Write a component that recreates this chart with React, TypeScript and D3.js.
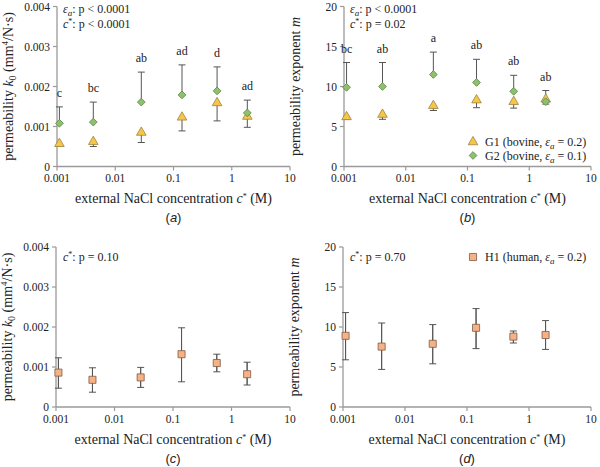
import * as d3 from "d3";
import React from "react";

const width = 600;
const height = 467;

// concentrations (M)
const conc = [0.0011, 0.0042, 0.028, 0.14, 0.56, 1.85];
const xTicks = [0.001, 0.01, 0.1, 1, 10];
const xTickLabels = ["0.001", "0.01", "0.1", "1", "10"];

// (a) k0 bovine
const k0G1 = [0.00057, 0.00062, 0.00085, 0.00123, 0.00159, 0.00125];
const k0G1Lo = [0.00052, 0.0005, 0.0006, 0.00089, 0.00114, 0.00098];
const k0G2 = [0.00108, 0.00111, 0.00161, 0.00179, 0.00189, 0.00134];
const k0G2Hi = [0.00149, 0.00161, 0.00236, 0.00254, 0.00249, 0.00166];
const k0Letters = ["c", "bc", "ab", "ad", "d", "ad"];

// (b) m bovine
const mG1 = [6.2, 6.5, 7.6, 8.3, 8.1, 8.4];
const mG1Lo = [5.9, 5.9, 7.0, 7.35, 7.3, 7.8];
const mG2 = [9.9, 10.0, 11.5, 10.5, 9.4, 8.1];
const mG2Hi = [13.0, 13.0, 14.3, 13.4, 11.4, 9.5];
const mLetters = ["bc", "ab", "a", "ab", "ab", "ab"];

// (c) k0 human
const k0H1 = [0.00086, 0.00068, 0.00074, 0.00132, 0.0011, 0.00082];
const k0H1Lo = [0.00047, 0.00037, 0.00049, 0.00063, 0.00088, 0.00055];
const k0H1Hi = [0.00123, 0.00098, 0.00099, 0.00198, 0.00132, 0.00112];

// (d) m human
const mH1 = [8.9, 7.55, 7.9, 9.9, 8.8, 9.0];
const mH1Lo = [5.9, 4.7, 5.4, 7.3, 8.0, 7.2];
const mH1Hi = [11.8, 10.5, 10.3, 12.3, 9.5, 10.8];

const k0Ticks = [0, 0.001, 0.002, 0.003, 0.004];
const k0TickLabels = ["0", "0.001", "0.002", "0.003", "0.004"];
const mTicks = [0, 5, 10, 15, 20];
const mTickLabels = ["0", "5", "10", "15", "20"];

const serif = "'Liberation Serif', 'Times New Roman', serif";
const sans = "'Liberation Sans', Arial, sans-serif";
const axisColor = "#9a9a9a";
const barColor = "#555";

const g1Fill = "#f7c646";
const g1Stroke = "#9c8340";
const g2Fill = "#8dc26b";
const g2Stroke = "#5e874a";
const h1Fill = "#f6b184";
const h1Stroke = "#7d5c48";

const triPath = d3.symbol(d3.symbolTriangle, 40)() as string;
const sqPath = d3.symbol(d3.symbolSquare, 30)() as string;
const boxPath = d3.symbol(d3.symbolSquare, 50)() as string;

interface Frame {
  left: number;
  right: number;
  top: number;
  bottom: number;
}

const frameA = { left: 57, right: 290, top: 6.5, bottom: 166.5 };
const frameB = { left: 344, right: 591, top: 6.5, bottom: 166.5 };
const frameC = { left: 56, right: 290, top: 247, bottom: 407 };
const frameD = { left: 343, right: 591, top: 247, bottom: 407 };

type XS = d3.ScaleLogarithmic<number, number>;
type YS = d3.ScaleLinear<number, number>;

const makeX = (f: Frame) =>
  d3.scaleLog().domain([0.001, 10]).range([f.left, f.right]);
const makeY = (f: Frame, max: number) =>
  d3.scaleLinear().domain([0, max]).range([f.bottom, f.top]);

// eps_a followed by text, baseline restored on the text
const Eps = ({ rest }: { rest: string }) => (
  <>
    <tspan fontStyle="italic">ε</tspan>
    <tspan fontStyle="italic" dy={3} fontSize={9}>a</tspan>
    <tspan dy={-3}>{rest}</tspan>
  </>
);

const CStar = ({ rest }: { rest: string }) => (
  <>
    <tspan fontStyle="italic">c</tspan>
    <tspan dy={-4} fontSize={8}>*</tspan>
    <tspan dy={4}>{rest}</tspan>
  </>
);

const k0Title = (
  <>
    <tspan>permeability </tspan>
    <tspan fontStyle="italic">k</tspan>
    <tspan dy={3} fontSize={10}>0</tspan>
    <tspan dy={-3}> (mm</tspan>
    <tspan dy={-5} fontSize={9}>4</tspan>
    <tspan dy={5}>/N·s)</tspan>
  </>
);

const mTitle = (
  <>
    <tspan>permeability exponent </tspan>
    <tspan fontStyle="italic">m</tspan>
  </>
);

const Axes = ({
  f,
  x,
  y,
  yTicks,
  yLabels,
  yTitle,
  tag,
}: {
  f: Frame;
  x: XS;
  y: YS;
  yTicks: number[];
  yLabels: string[];
  yTitle: React.ReactNode;
  tag: string;
}) => {
  const cx = (f.left + f.right) / 2;
  const cy = (f.top + f.bottom) / 2;
  return (
    <g fontFamily={serif} fill="#222">
      <line x1={f.left} x2={f.left} y1={f.top} y2={f.bottom} stroke={axisColor} strokeWidth={1.3} />
      <line x1={f.left} x2={f.right} y1={f.bottom} y2={f.bottom} stroke={axisColor} strokeWidth={1.3} />
      {yTicks.map((t, i) => (
        <g key={t}>
          <line x1={f.left - 4} x2={f.left} y1={y(t)} y2={y(t)} stroke={axisColor} strokeWidth={1.2} />
          <text x={f.left - 7} y={y(t) + 4} textAnchor="end" fontSize={11.5} fontFamily={serif}>
            {yLabels[i]}
          </text>
        </g>
      ))}
      {xTicks.map((t, i) => (
        <g key={t}>
          <line x1={x(t)} x2={x(t)} y1={f.bottom} y2={f.bottom + 4} stroke={axisColor} strokeWidth={1.2} />
          <text x={x(t)} y={f.bottom + 15.5} textAnchor="middle" fontSize={11.5} fontFamily={serif}>
            {xTickLabels[i]}
          </text>
        </g>
      ))}
      <text x={cx} y={f.bottom + 36.5} textAnchor="middle" fontSize={14} fontFamily={serif}>
        <tspan>external NaCl concentration </tspan>
        <CStar rest=" (M)" />
      </text>
      <text x={cx} y={f.bottom + 55.5} textAnchor="middle" fontSize={13} fontFamily={sans}>
        <tspan>(</tspan>
        <tspan fontStyle="italic">{tag}</tspan>
        <tspan>)</tspan>
      </text>
      <text
        transform={`translate(${f.left - 44},${cy}) rotate(-90)`}
        textAnchor="middle"
        fontSize={14}
        fontFamily={serif}
      >
        {yTitle}
      </text>
    </g>
  );
};

const OneSided = ({ x, y, vals, ends }: { x: XS; y: YS; vals: number[]; ends: number[] }) => (
  <g stroke={barColor} strokeWidth={1}>
    {vals.map((v, i) => (
      <g key={i}>
        <line x1={x(conc[i])} x2={x(conc[i])} y1={y(v)} y2={y(ends[i])} />
        <line x1={x(conc[i]) - 3.5} x2={x(conc[i]) + 3.5} y1={y(ends[i])} y2={y(ends[i])} />
      </g>
    ))}
  </g>
);

const TwoSided = ({ x, y, lo, hi }: { x: XS; y: YS; lo: number[]; hi: number[] }) => (
  <g>
    <OneSided x={x} y={y} vals={lo} ends={hi} />
    <OneSided x={x} y={y} vals={hi} ends={lo} />
  </g>
);

const Markers = ({
  x,
  y,
  vals,
  path,
  fill,
  stroke,
  rotate = 0,
}: {
  x: XS;
  y: YS;
  vals: number[];
  path: string;
  fill: string;
  stroke: string;
  rotate?: number;
}) => (
  <g fill={fill} stroke={stroke} strokeWidth={0.8}>
    {vals.map((v, i) => (
      <path key={i} d={path} transform={`translate(${x(conc[i])},${y(v)}) rotate(${rotate})`} />
    ))}
  </g>
);

const Letters = ({ x, y, ends, labels }: { x: XS; y: YS; ends: number[]; labels: string[] }) => (
  <g fontFamily={serif} fontSize={12} fill="#222" textAnchor="middle">
    {labels.map((l, i) => (
      <text key={i} x={x(conc[i])} y={y(ends[i]) - 10}>
        {l}
      </text>
    ))}
  </g>
);

const Note = ({ x, y, children }: { x: number; y: number; children: React.ReactNode }) => (
  <text x={x} y={y} fontFamily={serif} fontSize={12} fill="#222">
    {children}
  </text>
);

const PanelA = () => {
  const x = makeX(frameA);
  const y = makeY(frameA, 0.004);
  return (
    <g>
      <Axes f={frameA} x={x} y={y} yTicks={k0Ticks} yLabels={k0TickLabels} yTitle={k0Title} tag="a" />
      <OneSided x={x} y={y} vals={k0G1} ends={k0G1Lo} />
      <OneSided x={x} y={y} vals={k0G2} ends={k0G2Hi} />
      <Markers x={x} y={y} vals={k0G1} path={triPath} fill={g1Fill} stroke={g1Stroke} />
      <Markers x={x} y={y} vals={k0G2} path={sqPath} fill={g2Fill} stroke={g2Stroke} rotate={45} />
      <Letters x={x} y={y} ends={k0G2Hi} labels={k0Letters} />
      <Note x={63} y={13}>
        <Eps rest=": p < 0.0001" />
      </Note>
      <Note x={63} y={28}>
        <CStar rest=": p < 0.0001" />
      </Note>
    </g>
  );
};

const PanelB = () => {
  const x = makeX(frameB);
  const y = makeY(frameB, 20);
  return (
    <g>
      <Axes f={frameB} x={x} y={y} yTicks={mTicks} yLabels={mTickLabels} yTitle={mTitle} tag="b" />
      <OneSided x={x} y={y} vals={mG1} ends={mG1Lo} />
      <OneSided x={x} y={y} vals={mG2} ends={mG2Hi} />
      <Markers x={x} y={y} vals={mG1} path={triPath} fill={g1Fill} stroke={g1Stroke} />
      <Markers x={x} y={y} vals={mG2} path={sqPath} fill={g2Fill} stroke={g2Stroke} rotate={45} />
      <Letters x={x} y={y} ends={mG2Hi} labels={mLetters} />
      <Note x={350} y={13}>
        <Eps rest=": p < 0.0001" />
      </Note>
      <Note x={350} y={28}>
        <CStar rest=": p = 0.02" />
      </Note>
      <path d={triPath} transform="translate(473,142)" fill={g1Fill} stroke={g1Stroke} strokeWidth={0.8} />
      <Note x={485} y={146}>
        <tspan>G1 (bovine, </tspan>
        <Eps rest=" = 0.2)" />
      </Note>
      <path d={sqPath} transform="translate(473,155.5) rotate(45)" fill={g2Fill} stroke={g2Stroke} strokeWidth={0.8} />
      <Note x={485} y={159.5}>
        <tspan>G2 (bovine, </tspan>
        <Eps rest=" = 0.1)" />
      </Note>
    </g>
  );
};

const PanelC = () => {
  const x = makeX(frameC);
  const y = makeY(frameC, 0.004);
  return (
    <g>
      <Axes f={frameC} x={x} y={y} yTicks={k0Ticks} yLabels={k0TickLabels} yTitle={k0Title} tag="c" />
      <TwoSided x={x} y={y} lo={k0H1Lo} hi={k0H1Hi} />
      <Markers x={x} y={y} vals={k0H1} path={boxPath} fill={h1Fill} stroke={h1Stroke} />
      <Note x={63} y={261}>
        <CStar rest=": p = 0.10" />
      </Note>
    </g>
  );
};

const PanelD = () => {
  const x = makeX(frameD);
  const y = makeY(frameD, 20);
  return (
    <g>
      <Axes f={frameD} x={x} y={y} yTicks={mTicks} yLabels={mTickLabels} yTitle={mTitle} tag="d" />
      <TwoSided x={x} y={y} lo={mH1Lo} hi={mH1Hi} />
      <Markers x={x} y={y} vals={mH1} path={boxPath} fill={h1Fill} stroke={h1Stroke} />
      <Note x={350} y={261}>
        <CStar rest=": p = 0.70" />
      </Note>
      <path d={boxPath} transform="translate(473,257)" fill={h1Fill} stroke={h1Stroke} strokeWidth={0.8} />
      <Note x={485} y={261}>
        <tspan>H1 (human, </tspan>
        <Eps rest=" = 0.2)" />
      </Note>
    </g>
  );
};

export default function App() {
  return (
    <svg
      width={width}
      height={height}
      viewBox={`0 0 ${width} ${height}`}
      style={{ position: "absolute", left: 0, top: 0, background: "#fff" }}
    >
      <PanelA />
      <PanelB />
      <PanelC />
      <PanelD />
    </svg>
  );
}
